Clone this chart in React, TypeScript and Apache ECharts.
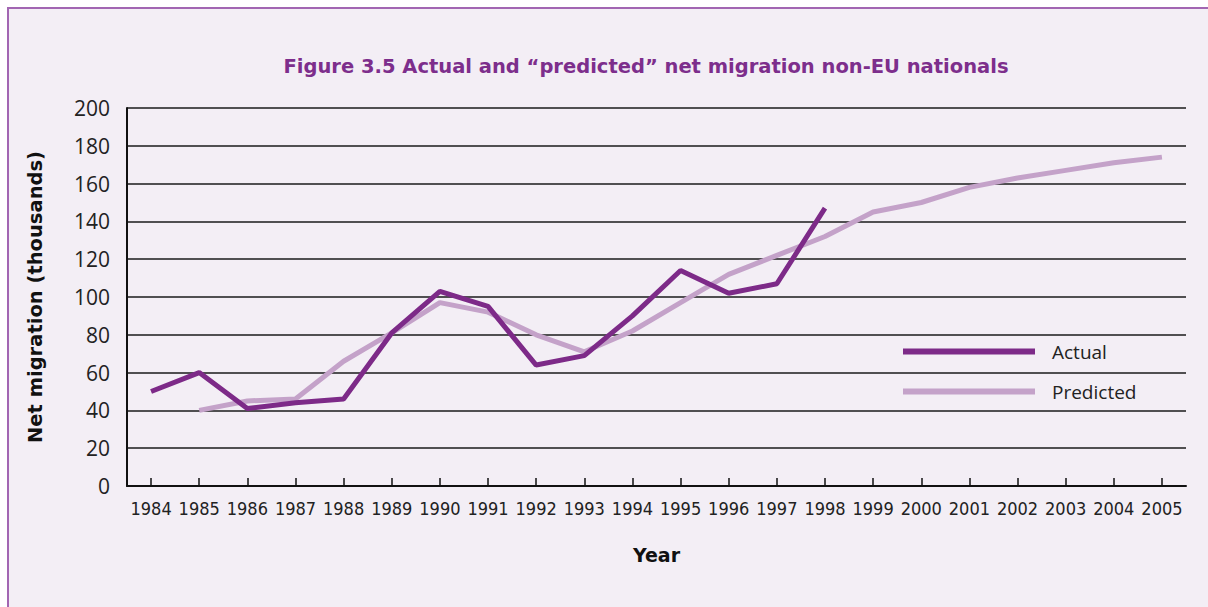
import React, { useEffect, useRef } from "react";
import * as echarts from "echarts";

const years = [
  "1984", "1985", "1986", "1987", "1988", "1989", "1990", "1991", "1992", "1993", "1994",
  "1995", "1996", "1997", "1998", "1999", "2000", "2001", "2002", "2003", "2004", "2005",
];

const actual: (number | null)[] = [
  50, 60, 41, 44, 46, 81, 103, 95, 64, 69, 90, 114, 102, 107, 147,
  null, null, null, null, null, null, null,
];

const predicted: (number | null)[] = [
  null, 40, 45, 46, 66, 81, 97, 92, 80, 71, 82, 97, 112, 122, 132,
  145, 150, 158, 163, 167, 171, 174,
];

const yTicks = { min: 0, max: 200, interval: 20 };

const titleText = "Figure 3.5 Actual and \u201cpredicted\u201d net migration non-EU nationals";

export default function App() {
  const ref = useRef<HTMLDivElement>(null);

  useEffect(() => {
    if (!ref.current) return;
    const chart = echarts.init(ref.current, null, { renderer: "svg" });
    const option: any = {
      animation: false,
      backgroundColor: "#ffffff",
      graphic: [
        {
          type: "rect",
          z: -10,
          silent: true,
          shape: { x: 8, y: 8, width: 1220, height: 620 },
          style: { fill: "#f3eef5", stroke: "#a266b2", lineWidth: 2 },
        },
      ],
      title: {
        text: titleText,
        left: 641,
        top: 51,
        textAlign: "center",
        textStyle: {
          color: "#7d2e8c",
          fontSize: 19.5,
          fontWeight: "bold",
          fontFamily: "DejaVu Sans",
        },
      },
      legend: {
        orient: "vertical",
        left: 903,
        top: 342,
        padding: 0,
        itemGap: 21,
        itemWidth: 132,
        itemHeight: 6,
        icon: "rect",
        data: ["Actual", "Predicted"],
        textStyle: {
          color: "#222",
          fontSize: 19,
          fontFamily: "Open Sans",
          padding: [0, 0, 0, 12],
        },
      },
      grid: { left: 127, right: 22, top: 108, bottom: 121, containLabel: false },
      xAxis: {
        type: "category",
        data: years,
        boundaryGap: true,
        name: "Year",
        nameLocation: "middle",
        nameGap: 59,
        nameTextStyle: {
          color: "#111",
          fontSize: 19,
          fontWeight: "bold",
          fontFamily: "DejaVu Sans",
        },
        axisLine: { show: true, lineStyle: { color: "#111", width: 2 } },
        axisTick: { show: true, alignWithLabel: true, inside: true, length: 8, lineStyle: { color: "#111", width: 1.5 } },
        axisLabel: {
          color: "#222",
          fontSize: 18,
          fontFamily: "Liberation Sans Narrow, DejaVu Sans Condensed, sans-serif",
          margin: 13,
          interval: 0,
        },
        splitLine: { show: false },
      },
      yAxis: {
        type: "value",
        min: yTicks.min,
        max: yTicks.max,
        interval: yTicks.interval,
        name: "Net migration (thousands)",
        nameLocation: "middle",
        nameRotate: 90,
        nameGap: 82,
        nameTextStyle: {
          color: "#111",
          fontSize: 19.5,
          fontWeight: "bold",
          fontFamily: "DejaVu Sans",
        },
        axisLine: { show: true, lineStyle: { color: "#111", width: 2 } },
        axisTick: { show: false },
        axisLabel: {
          color: "#222",
          fontSize: 21,
          fontFamily: "Open Sans",
          margin: 17,
        },
        splitLine: { show: true, lineStyle: { color: "#1a1a1a", width: 1.5 } },
      },
      series: [
        {
          name: "Predicted",
          type: "line",
          data: predicted,
          symbol: "none",
          connectNulls: false,
          lineStyle: { color: "#c4a2c9", width: 5 },
          itemStyle: { color: "#c4a2c9" },
        },
        {
          name: "Actual",
          type: "line",
          data: actual,
          symbol: "none",
          connectNulls: false,
          lineStyle: { color: "#7d2a88", width: 5 },
          itemStyle: { color: "#7d2a88" },
        },
      ],
    };
    chart.setOption(option);
    return () => chart.dispose();
  }, []);

  return (
    <div
      ref={ref}
      style={{ position: "fixed", left: 0, top: 0, width: 1208, height: 607 }}
    />
  );
}
